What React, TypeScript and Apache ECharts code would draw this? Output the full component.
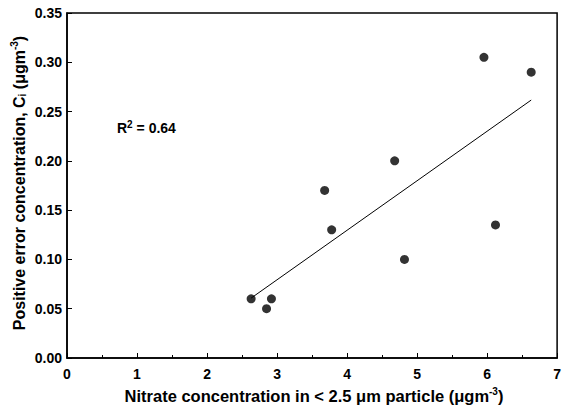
import React, { useEffect, useRef } from "react";
import * as echarts from "echarts";

const nitrateX: number[] = [2.63, 2.85, 2.92, 3.68, 3.78, 4.68, 4.82, 5.955, 6.12, 6.63];
const errorY: number[] = [0.06, 0.05, 0.06, 0.17, 0.13, 0.2, 0.1, 0.305, 0.135, 0.29];
const rSquaredLabel = "0.64";
const xTitleParts = ["Nitrate concentration in < 2.5 μm particle (μgm", "-3", ")"];
const yTitleParts = ["Positive error concentration, C", "i", " (μgm", "-3", ")"];

const FONT = "'Liberation Sans', Arial, Helvetica, sans-serif";

function regression(xs: number[], ys: number[]) {
  const n = xs.length;
  const mx = xs.reduce((a, b) => a + b, 0) / n;
  const my = ys.reduce((a, b) => a + b, 0) / n;
  let sxy = 0;
  let sxx = 0;
  for (let i = 0; i < n; i++) {
    sxy += (xs[i] - mx) * (ys[i] - my);
    sxx += (xs[i] - mx) * (xs[i] - mx);
  }
  const slope = sxy / sxx;
  const intercept = my - slope * mx;
  return { slope, intercept };
}

export default function App() {
  const ref = useRef<HTMLDivElement>(null);
  useEffect(() => {
    document.body.style.margin = "0";
    if (!ref.current) return;
    const chart = echarts.init(ref.current, null, { renderer: "svg" });
    const { slope, intercept } = regression(nitrateX, errorY);
    const xMin = Math.min(...nitrateX);
    const xMax = Math.max(...nitrateX);
    const fitLine = [
      [xMin, intercept + slope * xMin],
      [xMax, intercept + slope * xMax],
    ];
    const pts = nitrateX.map((x, i) => [x, errorY[i]]);
    chart.setOption({
      animation: false,
      backgroundColor: "#fff",
      grid: {
        left: 67,
        right: 2,
        top: 13,
        bottom: 51,
        show: true,
        borderColor: "#000",
        borderWidth: 1.5,
        containLabel: false,
      },
      xAxis: {
        type: "value",
        min: 0,
        max: 7,
        interval: 1,
        axisLine: { show: true, onZero: false, lineStyle: { color: "#000", width: 1.5 } },
        axisTick: { show: true, inside: true, length: 5, lineStyle: { color: "#000", width: 1 } },
        minorTick: { show: true, splitNumber: 2, length: 3, lineStyle: { color: "#000", width: 1 } },
        splitLine: { show: false },
        axisLabel: {
          margin: 9,
          color: "#000",
          fontFamily: FONT,
          fontWeight: "bold",
          fontSize: 14,
        },
      },
      yAxis: {
        type: "value",
        min: 0,
        max: 0.35,
        interval: 0.05,
        axisLine: { show: true, onZero: false, lineStyle: { color: "#000", width: 1.5 } },
        axisTick: { show: true, inside: true, length: 5, lineStyle: { color: "#000", width: 1 } },
        splitLine: { show: false },
        axisLabel: {
          margin: 5,
          color: "#000",
          fontFamily: FONT,
          fontWeight: "bold",
          fontSize: 14,
          formatter: (v: number) => v.toFixed(2),
        },
      },
      series: [
        {
          type: "line",
          data: fitLine,
          symbol: "none",
          lineStyle: { color: "#000", width: 1 },
          z: 2,
        },
        {
          type: "scatter",
          data: pts,
          symbol: "circle",
          symbolSize: 9,
          itemStyle: { color: "#000" },
          z: 3,
        },
      ],
      graphic: [
        {
          type: "text",
          x: 117,
          y: 128,
          style: {
            text: "R{sup|2} = " + rSquaredLabel,
            fill: "#000",
            font: `bold 14px ${FONT}`,
            verticalAlign: "middle",
            align: "left",
            rich: {
              sup: { fontSize: 10, fontWeight: "bold", fontFamily: FONT, padding: [0, 0, 8, 0] },
            },
          },
        },
        {
          type: "text",
          x: 314,
          y: 396,
          style: {
            text: xTitleParts[0] + "{sup|" + xTitleParts[1] + "}" + xTitleParts[2],
            fill: "#000",
            font: `bold 16.5px ${FONT}`,
            align: "center",
            verticalAlign: "middle",
            rich: {
              sup: { fontSize: 10, fontWeight: "bold", fontFamily: FONT, padding: [0, 0, 9, 0] },
            },
          },
        },
        {
          type: "text",
          x: 19,
          y: 183,
          rotation: Math.PI / 2,
          style: {
            text:
              yTitleParts[0] +
              "{sub|" + yTitleParts[1] + "}" +
              yTitleParts[2] +
              "{sup|" + yTitleParts[3] + "}" +
              yTitleParts[4],
            fill: "#000",
            font: `bold 16px ${FONT}`,
            align: "center",
            verticalAlign: "middle",
            rich: {
              sup: { fontSize: 10, fontWeight: "bold", fontFamily: FONT, padding: [0, 0, 9, 0] },
              sub: { fontSize: 10, fontWeight: "bold", fontFamily: FONT, padding: [6, 0, 0, 0] },
            },
          },
        },
      ],
    });
    return () => chart.dispose();
  }, []);
  return <div ref={ref} style={{ width: 564, height: 409 }} />;
}
